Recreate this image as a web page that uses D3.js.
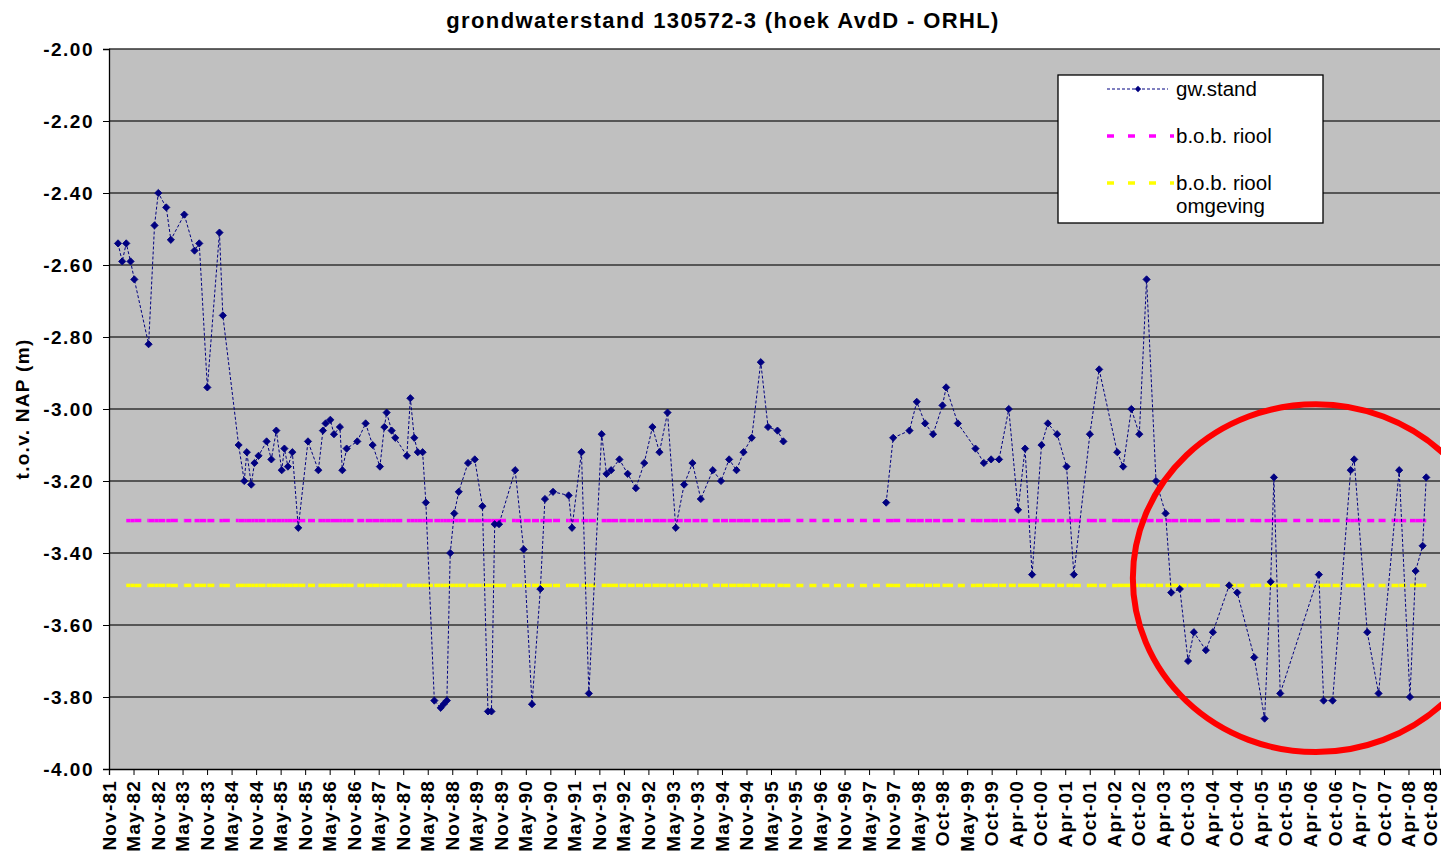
<!DOCTYPE html>
<html>
<head>
<meta charset="utf-8">
<script src="https://cdn.jsdelivr.net/npm/d3@7"></script>
<style>
  body { margin: 0; background: #fff; }
  text { font-family: Arial, "Liberation Sans", sans-serif; }
</style>
</head>
<body>
<svg width="1441" height="859"></svg>
<script>
// meetdata grondwaterstand (null = geen meting, lijn onderbroken)
const gwDates = [
  "1982-01-27","1982-02-27","1982-03-29","1982-04-30","1982-05-28","1982-09-11","1982-10-25","1982-11-22",
  "1983-01-20","1983-02-23","1983-06-03","1983-08-18","1983-09-22","1983-11-21","1984-02-19","1984-03-15",
  "1984-07-10","1984-08-21","1984-09-09","1984-10-12","1984-11-05","1984-12-05","1985-02-03","1985-03-10",
  "1985-04-16","1985-05-26","1985-06-15","1985-07-11","1985-08-13","1985-09-26","1985-12-07","1986-02-22",
  "1986-03-28","1986-04-17","1986-05-22","1986-06-18","1986-08-01","1986-08-19","1986-09-20","1986-12-08",
  "1987-02-08","1987-04-01","1987-05-25","1987-06-27","1987-07-14","1987-08-20","1987-09-16","1987-12-11",
  "1988-01-06","1988-02-04","1988-03-01","1988-04-06","1988-04-30","1988-07-02","1988-08-18","1988-09-09",
  "1988-10-03","1988-10-28","1988-11-27","1988-12-30","1989-03-09","1989-04-28","1989-06-24","1989-08-04",
  "1989-08-30","1989-09-23","1989-10-25","1990-02-22","1990-04-26","1990-06-27","1990-08-28","1990-10-01",
  "1990-11-30","1991-03-26","1991-04-20","1991-06-29","1991-08-23","1991-11-26","1992-01-01","1992-02-04",
  "1992-04-06","1992-06-06","1992-08-06","1992-10-07","1992-12-07","1993-01-28","1993-03-29","1993-05-29",
  "1993-07-30","1993-09-30","1993-12-01","1994-02-28","1994-04-30","1994-06-29","1994-08-23","1994-10-14",
  "1994-12-14","1995-02-19","1995-04-14","1995-06-23","1995-08-06","1996-08-15",
  "1997-09-07","1997-10-29","1998-02-27","1998-04-22","1998-06-23","1998-08-21","1998-10-30","1998-11-26",
  "1999-02-21","1999-07-02","1999-09-02","1999-10-26","1999-12-24","2000-03-05","2000-05-13","2000-07-04",
  "2000-08-25","2000-11-03","2000-12-20","2001-02-27","2001-05-08","2001-07-01","2001-10-28","2002-01-05",
  "2002-05-19","2002-07-02","2002-09-01","2002-10-30","2002-12-23","2003-03-03","2003-05-13","2003-06-24",
  "2003-08-27","2003-10-27","2003-12-09","2004-03-07","2004-04-28","2004-08-27","2004-10-26","2005-03-01",
  "2005-05-17","2005-07-01","2005-07-25","2005-09-10","2006-06-24","2006-07-29","2006-10-04","2007-02-15",
  "2007-03-13","2007-06-18","2007-09-10","2008-02-10","2008-04-30","2008-06-11","2008-08-02","2008-08-29"
];
const gwValues = [
  -2.54,-2.59,-2.54,-2.59,-2.64,-2.82,-2.49,-2.40,
  -2.44,-2.53,-2.46,-2.56,-2.54,-2.94,-2.51,-2.74,
  -3.10,-3.20,-3.12,-3.21,-3.15,-3.13,-3.09,-3.14,
  -3.06,-3.17,-3.11,-3.16,-3.12,-3.33,-3.09,-3.17,
  -3.06,-3.04,-3.03,-3.07,-3.05,-3.17,-3.11,-3.09,
  -3.04,-3.10,-3.16,-3.05,-3.01,-3.06,-3.08,-3.13,
  -2.97,-3.08,-3.12,-3.12,-3.26,-3.81,-3.83,-3.82,
  -3.81,-3.40,-3.29,-3.23,-3.15,-3.14,-3.27,-3.84,
  -3.84,-3.32,-3.32,-3.17,-3.39,-3.82,-3.50,-3.25,
  -3.23,-3.24,-3.33,-3.12,-3.79,-3.07,-3.18,-3.17,
  -3.14,-3.18,-3.22,-3.15,-3.05,-3.12,-3.01,-3.33,
  -3.21,-3.15,-3.25,-3.17,-3.20,-3.14,-3.17,-3.12,
  -3.08,-2.87,-3.05,-3.06,-3.09,null,
  -3.26,-3.08,-3.06,-2.98,-3.04,-3.07,-2.99,-2.94,
  -3.04,-3.11,-3.15,-3.14,-3.14,-3.00,-3.28,-3.11,
  -3.46,-3.10,-3.04,-3.07,-3.16,-3.46,-3.07,-2.89,
  -3.12,-3.16,-3.00,-3.07,-2.64,-3.20,-3.29,-3.51,
  -3.50,-3.70,-3.62,-3.67,-3.62,-3.49,-3.51,-3.69,
  -3.86,-3.48,-3.19,-3.79,-3.46,-3.81,-3.81,-3.17,
  -3.14,-3.62,-3.79,-3.17,-3.80,-3.45,-3.38,-3.19
];

// b.o.b. riool niveaus
const rioolLevel = -3.31;
const omgevingLevel = -3.49;

const tickLabelsX = [
  "Nov-81","May-82","Nov-82","May-83","Nov-83","May-84","Nov-84","May-85","Nov-85","May-86",
  "Nov-86","May-87","Nov-87","May-88","Nov-88","May-89","Nov-89","May-90","Nov-90","May-91",
  "Nov-91","May-92","Nov-92","May-93","Nov-93","May-94","Nov-94","May-95","Nov-95","May-96",
  "Nov-96","May-97","Nov-97","May-98","Oct-98","May-99","Oct-99","Apr-00","Oct-00","Apr-01",
  "Oct-01","Apr-02","Oct-02","Apr-03","Oct-03","Apr-04","Oct-04","Apr-05","Oct-05","Apr-06",
  "Oct-06","Apr-07","Oct-07","Apr-08","Oct-08"
];
const tickValuesY = [-4.0,-3.8,-3.6,-3.4,-3.2,-3.0,-2.8,-2.6,-2.4,-2.2,-2.0];
const tickLabelsY = ["-4.00","-3.80","-3.60","-3.40","-3.20","-3.00","-2.80","-2.60","-2.40","-2.20","-2.00"];

// rode cirkel rond de laatste jaren
const markCenter = {date: "2006-06-02", value: -3.47};
const markRadius = {days: 1359, meters: 0.483};

const parse = d3.timeParse("%Y-%m-%d");
const gwData = gwDates.map((d, i) => ({date: parse(d), value: gwValues[i]}));

const attr_area = {left: 109, right: 1440, top: 49, bottom: 769};
const axisStart = new Date(1981, 10, 21);   // as begint hier, stap 182 dagen
const tickStep = 182;

function drawGraph() {
    let svg = d3.select("svg");

    let scX = d3.scaleTime()
        .domain([axisStart, d3.timeDay.offset(axisStart, tickStep * (tickLabelsX.length - 1) + 52)])
        .range([attr_area.left, attr_area.right]);
    let scY = d3.scaleLinear()
        .domain([-4, -2])
        .range([attr_area.bottom, attr_area.top]);

    // plotgebied
    svg.append("rect")
        .attr("x", attr_area.left)
        .attr("y", attr_area.top)
        .attr("width", attr_area.right - attr_area.left)
        .attr("height", attr_area.bottom - attr_area.top)
        .attr("fill", "#c0c0c0");

    // rasterlijnen
    svg.append("g")
        .selectAll("line")
        .data(tickValuesY.slice(1))
        .enter()
        .append("line")
        .attr("x1", attr_area.left)
        .attr("x2", attr_area.right)
        .attr("y1", d => scY(d))
        .attr("y2", d => scY(d))
        .attr("stroke", "#333")
        .attr("stroke-width", 1.3);

    createAxis(svg, scX, scY);
    createRefLine(svg, scX, scY, rioolLevel, "#ff00ff");
    createRefLine(svg, scX, scY, omgevingLevel, "#ffff00");
    createSeries(svg, scX, scY);
    createMark(svg, scX, scY);
    createLegend(svg);

    // titel
    svg.append("text")
        .attr("x", 723)
        .attr("y", 28)
        .attr("text-anchor", "middle")
        .style("font-size", "22px")
        .style("font-weight", "bold")
        .style("letter-spacing", "1.4px")
        .text("grondwaterstand 130572-3 (hoek AvdD - ORHL)");

    svg.append("text")
        .attr("transform", "translate(29, 409) rotate(-90)")
        .attr("text-anchor", "middle")
        .style("font-size", "19px")
        .style("font-weight", "bold")
        .style("letter-spacing", "1.3px")
        .text("t.o.v. NAP (m)");
}

function createAxis(svg, scX, scY) {
    let tickDates = tickLabelsX.map((d, i) => d3.timeDay.offset(axisStart, tickStep * i));

    let axisX = d3.axisBottom(scX)
        .tickValues(tickDates)
        .tickFormat((d, i) => tickLabelsX[i])
        .tickSizeOuter(0)
        .tickSize(6);
    let gx = svg.append("g")
        .attr("transform", `translate(0, ${attr_area.bottom})`)
        .call(axisX);
    gx.selectAll("text")
        .style("font-size", "19px")
        .style("font-weight", "bold")
        .style("letter-spacing", "1.2px")
        .attr("fill", "#000")
        .attr("text-anchor", "end")
        .attr("transform", "rotate(-90)")
        .attr("x", -11)
        .attr("y", 0)
        .attr("dy", (d, i) => i === tickLabelsX.length - 1 ? "0.18em" : "0.32em");   // laatste label past net
    gx.select(".domain").attr("stroke", "#000").attr("stroke-width", 1.3);
    gx.selectAll(".tick line").attr("stroke", "#000");

    let axisY = d3.axisLeft(scY)
        .tickValues(tickValuesY)
        .tickFormat((d, i) => tickLabelsY[i])
        .tickSizeOuter(0)
        .tickSize(6);
    let gy = svg.append("g")
        .attr("transform", `translate(${attr_area.left}, 0)`)
        .call(axisY);
    gy.selectAll("text")
        .style("font-size", "19px")
        .style("font-weight", "bold")
        .style("letter-spacing", "1.5px")
        .attr("fill", "#000")
        .attr("x", -15);
    gy.select(".domain").attr("stroke", "#000").attr("stroke-width", 1.3);
    gy.selectAll(".tick line").attr("stroke", "#000");
}

// referentielijn, per segment getekend zoals excel dat doet
function createRefLine(svg, scX, scY, level, color) {
    let dates = gwData.slice(2).map(d => d.date);
    let segs = d3.pairs(dates);
    svg.append("g")
        .selectAll("line")
        .data(segs)
        .enter()
        .append("line")
        .attr("x1", d => scX(d[0]))
        .attr("x2", d => scX(d[1]))
        .attr("y1", scY(level))
        .attr("y2", scY(level))
        .attr("stroke", color)
        .attr("stroke-width", 3.5)
        .attr("stroke-dasharray", "7,6");
}

function createSeries(svg, scX, scY) {
    let line = d3.line()
        .defined(d => d.value !== null)
        .x(d => scX(d.date))
        .y(d => scY(d.value));

    svg.append("path")
        .datum(gwData)
        .attr("d", line)
        .attr("fill", "none")
        .attr("stroke", "#000080")
        .attr("stroke-width", 1)
        .attr("stroke-dasharray", "3,2");

    let diamond = d3.symbol().type(d3.symbolSquare).size(26);
    svg.append("g")
        .selectAll("path")
        .data(gwData.filter(d => d.value !== null))
        .enter()
        .append("path")
        .attr("d", diamond)
        .attr("transform", d => `translate(${scX(d.date)}, ${scY(d.value)}) rotate(45)`)
        .attr("fill", "#000080")
        .attr("stroke", "#000080")
        .attr("stroke-width", 0.8);
}

function createMark(svg, scX, scY) {
    let c = parse(markCenter.date);
    let cx = scX(c);
    let cy = scY(markCenter.value);
    svg.append("ellipse")
        .attr("cx", cx)
        .attr("cy", cy)
        .attr("rx", scX(d3.timeDay.offset(c, markRadius.days)) - cx)
        .attr("ry", cy - scY(markCenter.value + markRadius.meters))
        .attr("fill", "none")
        .attr("stroke", "#ff0000")
        .attr("stroke-width", 6);
}

function createLegend(svg) {
    let g = svg.append("g").attr("transform", "translate(1058, 75)");
    g.append("rect")
        .attr("width", 265)
        .attr("height", 148)
        .attr("fill", "#fff")
        .attr("stroke", "#000")
        .attr("stroke-width", 1.3);

    g.append("line")
        .attr("x1", 49).attr("x2", 110).attr("y1", 14).attr("y2", 14)
        .attr("stroke", "#000080").attr("stroke-dasharray", "3,2");
    g.append("path")
        .attr("d", d3.symbol().type(d3.symbolSquare).size(20))
        .attr("transform", "translate(80, 14) rotate(45)")
        .attr("fill", "#000080");

    g.append("line")
        .attr("x1", 49).attr("x2", 116).attr("y1", 61).attr("y2", 61)
        .attr("stroke", "#ff00ff").attr("stroke-width", 3.5).attr("stroke-dasharray", "7,14");
    g.append("line")
        .attr("x1", 49).attr("x2", 116).attr("y1", 108).attr("y2", 108)
        .attr("stroke", "#ffff00").attr("stroke-width", 3.5).attr("stroke-dasharray", "7,14");

    let labels = [["gw.stand", 21], ["b.o.b. riool", 68], ["b.o.b. riool", 115], ["omgeving", 138]];
    g.selectAll(".lbl")
        .data(labels)
        .enter()
        .append("text")
        .attr("x", 118)
        .attr("y", d => d[1])
        .style("font-size", "20.5px")
        .attr("fill", "#000")
        .text(d => d[0]);
}

drawGraph();
</script>
</body>
</html>
